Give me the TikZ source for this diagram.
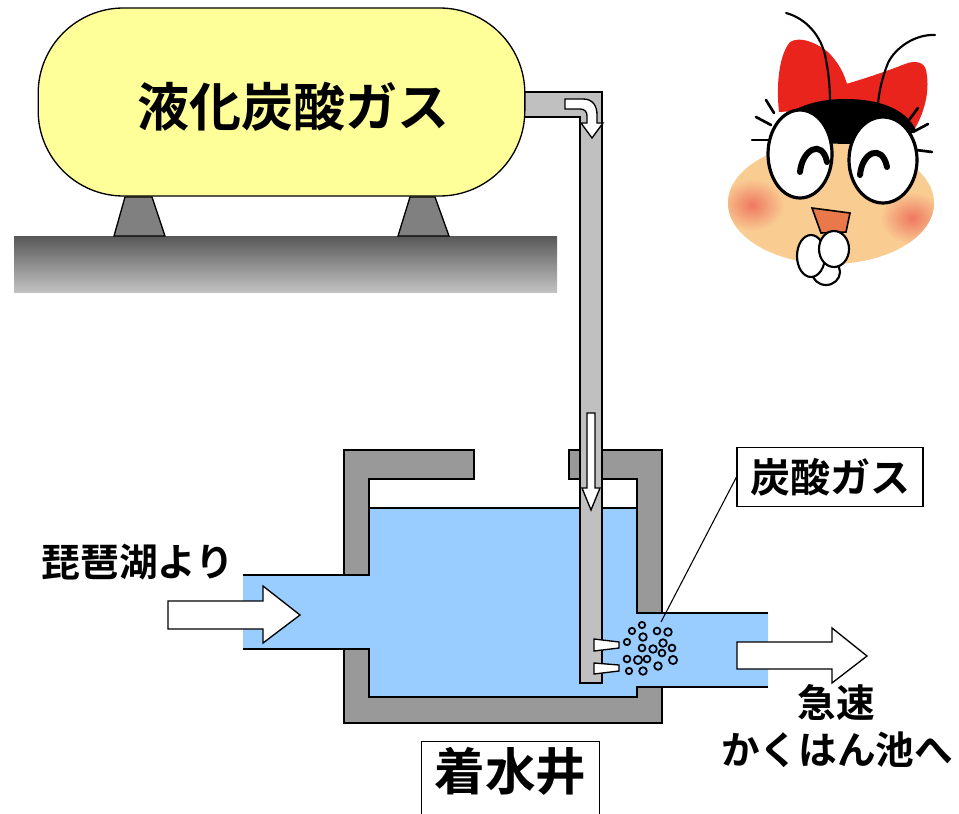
\documentclass[tikz,border=0pt]{standalone}
\usepackage{fontspec}
\newfontfamily\jpfont{Noto Sans CJK JP Bold}
\definecolor{tankyellow}{RGB}{255,255,153}
\definecolor{pipegray}{RGB}{192,192,192}
\definecolor{wallgray}{RGB}{153,153,153}
\definecolor{watercol}{RGB}{153,204,255}
\definecolor{supportgray}{RGB}{128,128,128}
\definecolor{groundtop}{RGB}{88,88,88}
\definecolor{groundbot}{RGB}{194,194,194}
\definecolor{facecol}{RGB}{249,204,146}
\definecolor{blushcol}{RGB}{238,120,96}
\definecolor{bowred}{RGB}{232,36,28}
\definecolor{mouthcol}{RGB}{233,120,74}
\tikzset{
  outline/.style={draw=black, line width=1pt, line join=miter},
  tankbody/.style={outline, fill=tankyellow, rounded corners=64pt,
    minimum width=365pt, minimum height=141pt, inner sep=0pt},
  bigtext/.style={font=\jpfont\fontsize{39pt}{39pt}\selectfont, inner sep=0pt},
  labeltext/.style={font=\jpfont\fontsize{29pt}{31pt}\selectfont, inner sep=0pt},
  labelbox/.style={draw=black, line width=0.8pt, fill=white,
    font=\jpfont\fontsize{30pt}{30pt}\selectfont, inner sep=0pt},
  wall/.style={outline, fill=wallgray},
  pipebody/.style={outline, fill=pipegray},
  flowarrow/.style={outline, fill=white},
  bubble/.style={draw=black, line width=1.3pt, fill=watercol},
  support/.style={outline, fill=supportgray},
  lash/.style={draw=black, line width=2pt, line cap=round},
}
\begin{document}
\begin{tikzpicture}[x=0.75pt, y=-0.75pt]
\useasboundingbox (0,0) rectangle (959,813);

% ground slab and tank supports
\shade[top color=groundtop, bottom color=groundbot] (14,236) rectangle (557,292);
\draw[support] (125,197) -- (152,197) -- (165,236) -- (114,236) -- cycle;
\draw[support] (410,197) -- (435,197) -- (449,236) -- (398,236) -- cycle;

% water in the receiving well and its channels
\fill[watercol] (243,575) -- (369,575) -- (369,508) -- (637,508) -- (637,613)
  -- (768,613) -- (768,687) -- (637,687) -- (637,697) -- (369,697)
  -- (369,649) -- (243,649) -- cycle;
\draw[line width=1pt] (243,575) -- (344,575);
\draw[line width=1pt] (243,649) -- (344,649);
\draw[line width=1pt] (369,508) -- (637,508);
\draw[line width=1pt] (662,613) -- (768,613);
\draw[line width=1pt] (662,687) -- (768,687);

% concrete walls
\draw[wall] (344,450) -- (474,450) -- (474,479) -- (369,479) -- (369,575) -- (344,575) -- cycle;
\draw[wall] (344,649) -- (369,649) -- (369,697) -- (637,697) -- (637,687) -- (662,687)
  -- (662,723) -- (344,723) -- cycle;
\draw[wall] (569,450) -- (662,450) -- (662,613) -- (637,613) -- (637,479) -- (569,479) -- cycle;

% gas pipe
\path[pipebody] (515,92) -- (602,92) -- (602,683) -- (580,683) -- (580,117) -- (515,117);

% gas tank
\node[tankbody] (tank) at (281.5,102) {};
\node[bigtext] (tanklabel) at (293,107) {液化炭酸ガス};

% flow arrows inside the pipe
\draw[flowarrow] (565,99) -- (583,99) .. controls (593,99) and (597,106) .. (597,115)
  -- (597,123) -- (603,123) -- (592,138) -- (581,123) -- (587,123) -- (587,116)
  .. controls (587,112) and (585,109) .. (580,109) -- (565,109) -- cycle;
\draw[flowarrow] (587,413) -- (595,413) -- (595,488) -- (600,488) -- (591,510)
  -- (582,488) -- (587,488) -- cycle;

% diffuser nozzles
\draw[flowarrow] (594,639) -- (619,642) -- (619,648) -- (594,651) -- cycle;
\draw[flowarrow] (594,663) -- (619,665) -- (619,671) -- (594,674) -- cycle;

% gas bubbles
\foreach \bx/\by/\br in {642/625/3.2, 632/631/3.2, 657/631/3.4, 668/632/3.8,
  643/637/3.8, 627/642/3.2, 663/643/3.8, 642/648/3.4, 653/649/3.8, 672/648/3.4,
  662/653/3.4, 627/659/3.4, 638/660/4.1, 647/659/3.4, 673/660/4.1, 658/666/3.8,
  629/671/3.2, 643/671/3.8}
  \draw[bubble] (\bx,\by) circle [radius=\br];

% in-flow and out-flow arrows
\draw[flowarrow] (168,601) -- (263,601) -- (263,586) -- (300,615) -- (263,643)
  -- (263,629) -- (168,629) -- cycle;
\draw[flowarrow] (737,642) -- (832,642) -- (832,628) -- (867,656) -- (832,683)
  -- (832,669) -- (737,669) -- cycle;

% labels
\node[labeltext] (source) at (138,562) {琵琶湖より};
\node[labeltext] (dest1) at (836,703) {急速};
\node[labeltext] (dest2) at (837,750) {かくはん池へ};
\node[labelbox, minimum width=139.5pt, minimum height=44pt] (gaslabel) at (830,477) {炭酸ガス};
\coordinate (gas) at (661,622);
\draw[line width=0.8pt] (gas) -- (gaslabel.west);
\node[draw=black, line width=0.8pt, inner sep=0pt, text height=37pt, text depth=30pt,
  minimum width=134pt, anchor=north, font=\jpfont\fontsize{38pt}{38pt}\selectfont]
  (well) at (510.5,741) {着水井};

% mascot: bow
\fill[bowred] (779,112) .. controls (776,85) and (779,55) .. (790,42)
  .. controls (800,36) and (815,42) .. (828,52)
  .. controls (838,62) and (845,74) .. (848,88) -- (850,108) -- cycle;
\fill[bowred] (846,84) .. controls (860,80) and (885,72) .. (905,64)
  .. controls (915,60) and (924,62) .. (926,70)
  .. controls (930,88) and (926,110) .. (914,130) -- (850,110) -- cycle;
% face
\fill[facecol] (831,203) ellipse [x radius=103, y radius=61];
\begin{scope}
  \clip (831,203) ellipse [x radius=103, y radius=61];
  \shade[inner color=blushcol, outer color=facecol] (752,205) ellipse [x radius=32, y radius=26];
  \shade[inner color=blushcol, outer color=facecol] (912,218) ellipse [x radius=32, y radius=26];
\end{scope}
% hair band above the eyes
\fill[black] (771,132) .. controls (785,108) and (815,99) .. (845,99)
  .. controls (878,99) and (905,108) .. (916,130) -- (900,142) -- (845,144) -- (790,142) -- cycle;
% antennae
\draw[black, line width=1.6pt, line cap=round] (786,13) .. controls (805,18) and (822,35) .. (826,60)
  .. controls (829,75) and (830,90) .. (830,103);
\draw[black, line width=1.6pt, line cap=round] (935,35) .. controls (915,34) and (895,48) .. (888,63)
  .. controls (882,78) and (879,92) .. (878,104);
% eyes
\draw[draw=black, line width=2.4pt, fill=white] (800,154) ellipse [x radius=32, y radius=44];
\draw[draw=black, line width=2.4pt, fill=white] (883,160) ellipse [x radius=34, y radius=43];
\draw[black, line width=4.5pt, line cap=round] (800,172) .. controls (802,150) and (822,138) .. (827,162);
\draw[black, line width=4.5pt, line cap=round] (860,175) .. controls (862,152) and (882,143) .. (887,167);
% eyelashes
\draw[lash] (771,125) -- (756,117);
\draw[lash] (769,140) -- (752,140);
\draw[lash] (774,113) -- (766,100);
\draw[lash] (913,132) -- (928,124);
\draw[lash] (916,150) -- (932,152);
\draw[lash] (909,120) -- (918,108);
% mouth
\draw[draw=black, line width=1.2pt, fill=mouthcol] (812,208) -- (850,213) -- (846,232) -- (821,233) -- cycle;
% hands
\draw[draw=black, line width=1.6pt, fill=white] (826,272) ellipse [x radius=14, y radius=13];
\draw[draw=black, line width=1.6pt, fill=white] (811,256) ellipse [x radius=14, y radius=21];
\draw[draw=black, line width=1.6pt, fill=white] (834,249) ellipse [x radius=15, y radius=18];
\end{tikzpicture}
\end{document}
